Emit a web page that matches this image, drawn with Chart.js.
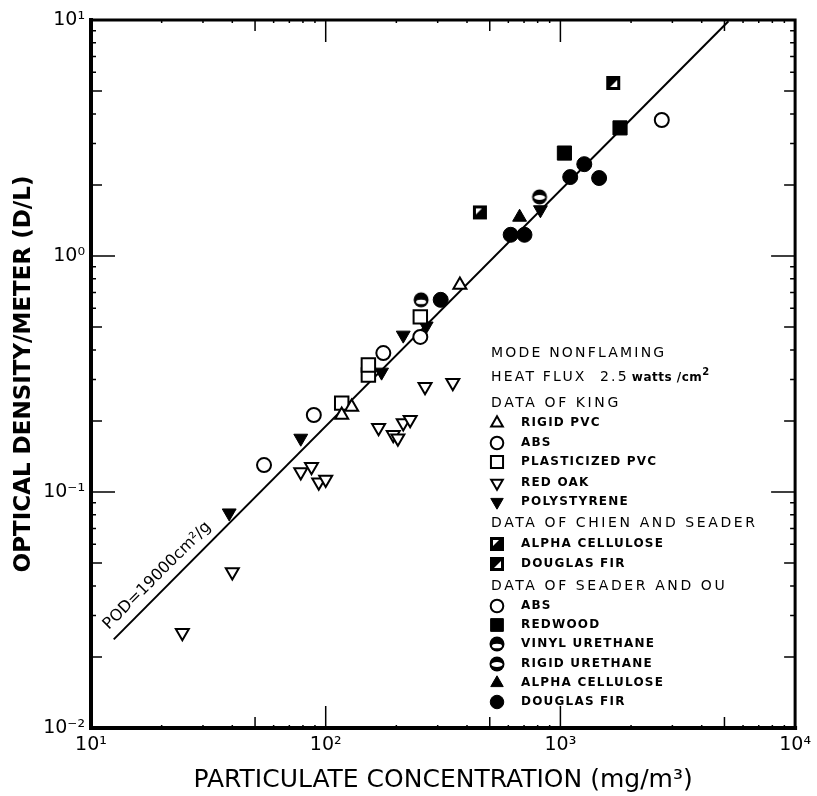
<!DOCTYPE html>
<html><head><meta charset="utf-8">
<script src="https://cdn.jsdelivr.net/npm/chart.js@4/dist/chart.umd.min.js"></script>
<style>html,body{margin:0;padding:0;background:#fff;} canvas{display:block}</style>
</head><body>
<canvas id="c" width="817" height="796"></canvas>
<script>
// ---------- data ----------
const xTickValues = [10, 100, 1000, 10000];
const xTickLabels = ['10¹', '10²', '10³', '10⁴'];
const yTickValues = [0.01, 0.1, 1, 10];
const yTickLabels = ['10⁻²', '10⁻¹', '10⁰', '10¹'];
const minorMultipliers = [2, 3, 4, 5, 6, 7, 8, 9];

// Data of King
const rigidPvcX = [117, 129, 373];
const rigidPvcY = [0.212, 0.229, 0.753];
const absKingX = [54.6, 89, 176, 253];
const absKingY = [0.130, 0.212, 0.388, 0.454];
const plastPvcX = [117, 152, 152, 253];
const plastPvcY = [0.238, 0.313, 0.345, 0.552];
const redOakX = [24.5, 40, 78.3, 87, 93.4, 100, 168, 194, 203, 214, 229, 265, 348];
const redOakY = [0.0253, 0.0458, 0.1216, 0.128, 0.110, 0.113, 0.187, 0.175, 0.169, 0.196, 0.2025, 0.279, 0.29];
const polystyreneX = [38.8, 78.3, 173, 214, 268, 822];
const polystyreneY = [0.0815, 0.169, 0.322, 0.462, 0.505, 1.57];
// Data of Chien and Seader
const chienAlphaX = [454];
const chienAlphaY = [1.53];
const chienFirX = [1679];
const chienFirY = [5.41];
// Data of Seader and Ou
const seaderAbsX = [2704];
const seaderAbsY = [3.77];
const redwoodX = [1040, 1795];
const redwoodY = [2.73, 3.49];
const vinylUrethaneX = [255];
const vinylUrethaneY = [0.652];
const rigidUrethaneX = [815];
const rigidUrethaneY = [1.78];
const alphaCellX = [670];
const alphaCellY = [1.46];
const douglasFirX = [309, 614, 703, 1101, 1264, 1462];
const douglasFirY = [0.652, 1.23, 1.23, 2.16, 2.45, 2.14];
// POD = 19000 cm2/g line
const fitLineX = [12.5, 5200];
const fitLineY = [0.02375, 9.88];

const xTitle = 'PARTICULATE CONCENTRATION (mg/m³)';
const yTitle = 'OPTICAL DENSITY/METER (D/L)';
const lineLabel = 'POD=19000cm²/g';

// ---------- custom marker images ----------
function mk(w, h, fn) { const c = document.createElement('canvas'); c.width = w; c.height = h; fn(c.getContext('2d')); return c; }
const vinylImg = mk(18, 18, g => {
  g.fillStyle = '#000'; g.beginPath(); g.arc(9, 9, 7.5, 0, Math.PI * 2); g.fill();
  g.fillStyle = '#fff'; g.beginPath(); g.ellipse(9, 11, 5, 2.3, 0, 0, Math.PI * 2); g.fill();
});
const rigidUImg = mk(18, 18, g => {
  g.fillStyle = '#000'; g.beginPath(); g.arc(9, 9, 7.5, 0, Math.PI * 2); g.fill();
  g.fillStyle = '#fff'; g.beginPath(); g.ellipse(9, 9.5, 5.5, 2.6, 0, 0, Math.PI * 2); g.fill();
});
const chienAlphaImg = mk(16, 16, g => {
  g.fillStyle = '#000'; g.fillRect(1, 1, 14, 14);
  g.fillStyle = '#fff'; g.beginPath(); g.moveTo(4, 4); g.lineTo(10, 4); g.lineTo(4, 10); g.closePath(); g.fill();
});
const chienFirImg = mk(16, 16, g => {
  g.fillStyle = '#000'; g.fillRect(1, 1, 14, 14);
  g.fillStyle = '#fff'; g.beginPath(); g.moveTo(12, 5); g.lineTo(12, 12); g.lineTo(5, 12); g.closePath(); g.fill();
});

const FONT = 'DejaVu Sans';
const pts = (xs, ys) => xs.map((x, i) => ({ x, y: ys[i] }));
const openStyle = { backgroundColor: '#fff', borderColor: '#000', borderWidth: 2 };
const fillStyle = { backgroundColor: '#000', borderColor: '#000', borderWidth: 1 };

const series = [
  { label: 'RIGID PVC', data: pts(rigidPvcX, rigidPvcY), pointStyle: 'triangle', pointRadius: 7.5, ...openStyle },
  { label: 'ABS', data: pts(absKingX, absKingY), pointStyle: 'circle', pointRadius: 7, ...openStyle },
  { label: 'PLASTICIZED PVC', data: pts(plastPvcX, plastPvcY), pointStyle: 'rect', pointRadius: 9.5, ...openStyle },
  { label: 'RED OAK', data: pts(redOakX, redOakY), pointStyle: 'triangle', rotation: 180, pointRadius: 7.5, ...openStyle },
  { label: 'POLYSTYRENE', data: pts(polystyreneX, polystyreneY), pointStyle: 'triangle', rotation: 180, pointRadius: 8, ...fillStyle },
  { label: 'ALPHA CELLULOSE', data: pts(chienAlphaX, chienAlphaY), pointStyle: chienAlphaImg, pointRadius: 8, ...fillStyle },
  { label: 'DOUGLAS FIR', data: pts(chienFirX, chienFirY), pointStyle: chienFirImg, pointRadius: 8, ...fillStyle },
  { label: 'ABS', data: pts(seaderAbsX, seaderAbsY), pointStyle: 'circle', pointRadius: 7, ...openStyle },
  { label: 'REDWOOD', data: pts(redwoodX, redwoodY), pointStyle: 'rect', pointRadius: 10, ...fillStyle },
  { label: 'VINYL URETHANE', data: pts(vinylUrethaneX, vinylUrethaneY), pointStyle: vinylImg, pointRadius: 8, ...fillStyle },
  { label: 'RIGID URETHANE', data: pts(rigidUrethaneX, rigidUrethaneY), pointStyle: rigidUImg, pointRadius: 8, ...fillStyle },
  { label: 'ALPHA CELLULOSE', data: pts(alphaCellX, alphaCellY), pointStyle: 'triangle', pointRadius: 8, ...fillStyle },
  { label: 'DOUGLAS FIR', data: pts(douglasFirX, douglasFirY), pointStyle: 'circle', pointRadius: 7.5, ...fillStyle },
];
series.forEach(s => { s.showLine = false; s.pointHoverRadius = s.pointRadius; s.order = 1; });

const legendHeaders = [
  { text: 'DATA OF KING', y: 403 },
  { text: 'DATA OF CHIEN AND SEADER', y: 523 },
  { text: 'DATA OF SEADER AND OU', y: 586 },
];
const legendItemY = [423, 443, 462, 483, 502, 544, 564, 606, 625, 644, 664, 683, 702];

const decorPlugin = {
  id: 'decor',
  afterDatasetsDraw(chart) {
    const ctx = chart.ctx, xs = chart.scales.x, ys = chart.scales.y, a = chart.chartArea;
    ctx.save();
    // frame
    ctx.strokeStyle = '#000'; ctx.lineCap = 'square';
    ctx.lineWidth = 4;
    ctx.beginPath(); ctx.moveTo(a.left, a.top); ctx.lineTo(a.left, a.bottom); ctx.lineTo(a.right, a.bottom); ctx.stroke();
    ctx.lineWidth = 3;
    ctx.beginPath(); ctx.moveTo(a.left, a.top); ctx.lineTo(a.right, a.top); ctx.lineTo(a.right, a.bottom); ctx.stroke();
    // inward ticks
    ctx.lineWidth = 1.5; ctx.lineCap = 'butt';
    const tickLen = m => (m === 1 ? 24 : (m === 5 || m === 2 ? 11 : 5));
    yTickValues.forEach((base, k) => {
      [1].concat(minorMultipliers).forEach(m => {
        if (m !== 1 && k === yTickValues.length - 1) return;
        const v = base * m, py = ys.getPixelForValue(v), L = tickLen(m);
        ctx.beginPath(); ctx.moveTo(a.left, py); ctx.lineTo(a.left + L, py);
        ctx.moveTo(a.right, py); ctx.lineTo(a.right - L, py); ctx.stroke();
      });
    });
    const xLen = m => (m === 1 ? 22 : (m === 5 ? 11 : 3));
    xTickValues.forEach((base, k) => {
      [1].concat(minorMultipliers).forEach(m => {
        if (m !== 1 && k === xTickValues.length - 1) return;
        const v = base * m, px = xs.getPixelForValue(v), L = xLen(m);
        ctx.beginPath(); ctx.moveTo(px, a.bottom); ctx.lineTo(px, a.bottom - L);
        ctx.moveTo(px, a.top); ctx.lineTo(px, a.top + L); ctx.stroke();
      });
    });
    // line label
    const lx = xs.getPixelForValue(fitLineX[0] * 1.05), ly = ys.getPixelForValue(fitLineY[0] * 1.05);
    ctx.translate(lx, ly); ctx.rotate(-Math.PI / 4);
    ctx.fillStyle = '#000'; ctx.font = '16px ' + FONT; ctx.textBaseline = 'alphabetic'; ctx.textAlign = 'left';
    ctx.fillText(lineLabel, -4, -10);
    ctx.setTransform(1, 0, 0, 1, 0, 0);
    // legend
    ctx.fillStyle = '#000'; ctx.textBaseline = 'middle'; ctx.textAlign = 'left';
    ctx.font = '14px ' + FONT; ctx.letterSpacing = '2.2px';
    ctx.fillText('MODE NONFLAMING', 491, 353);
    ctx.fillText('HEAT FLUX  2.5', 491, 377);
    let w = ctx.measureText('HEAT FLUX  2.5').width;
    ctx.letterSpacing = '0.5px';
    ctx.font = 'bold 12px ' + FONT; ctx.fillText('watts /cm', 494 + w, 378);
    let w2 = ctx.measureText('watts /cm').width;
    ctx.font = 'bold 10px ' + FONT; ctx.fillText('2', 494 + w + w2, 372);
    ctx.font = '14px ' + FONT; ctx.letterSpacing = '2.6px';
    legendHeaders.forEach(h => ctx.fillText(h.text, 491, h.y));
    ctx.font = 'bold 12px ' + FONT; ctx.letterSpacing = '1.2px';
    series.forEach((s, i) => {
      const y = legendItemY[i];
      ctx.fillText(s.label, 521, y);
      ctx.save();
      ctx.letterSpacing = '0px';
      ctx.fillStyle = s.backgroundColor; ctx.strokeStyle = s.borderColor; ctx.lineWidth = s.borderWidth;
      Chart.helpers.drawPoint(ctx, { pointStyle: s.pointStyle, radius: s.pointRadius * 0.9, rotation: s.rotation || 0, borderWidth: s.borderWidth }, 497, y);
      ctx.restore();
    });
    ctx.restore();
  }
};

new Chart(document.getElementById('c'), {
  type: 'scatter',
  data: {
    datasets: [
      { label: 'POD line', data: pts(fitLineX, fitLineY), showLine: true, borderColor: '#000', borderWidth: 2, pointRadius: 0, order: 10 },
      ...series
    ]
  },
  options: {
    responsive: false, devicePixelRatio: 1, animation: false,
    layout: { padding: { left: 0, top: 20, right: 18, bottom: 0 } },
    plugins: { legend: { display: false }, tooltip: { enabled: false } },
    scales: {
      x: {
        type: 'logarithmic', min: 10, max: 10000, position: 'bottom',
        grid: { display: false, drawTicks: false }, border: { display: false },
        afterBuildTicks: s => { s.ticks = xTickValues.map(v => ({ value: v, major: true })); },
        afterFit: s => { s.height = 68; },
        ticks: { color: '#000', font: { family: FONT, size: 19 }, padding: 6, maxRotation: 0, autoSkip: false,
          callback: v => xTickLabels[xTickValues.indexOf(v)] },
        title: { display: true, text: xTitle, color: '#000', font: { family: FONT, size: 25 }, padding: { top: 0, bottom: 1 } }
      },
      y: {
        type: 'logarithmic', min: 0.01, max: 10, position: 'left',
        grid: { display: false, drawTicks: false }, border: { display: false },
        afterBuildTicks: s => { s.ticks = yTickValues.map(v => ({ value: v, major: true })); },
        afterFit: s => { s.width = 91; },
        ticks: { color: '#000', font: { family: FONT, size: 19 }, padding: 6, autoSkip: false,
          callback: v => yTickLabels[yTickValues.indexOf(v)] },
        title: { display: true, text: yTitle, color: '#000', font: { family: FONT, size: 23, weight: 'bold' }, padding: { top: 10, bottom: 0 } }
      }
    }
  },
  plugins: [decorPlugin]
});
</script>
</body></html>
